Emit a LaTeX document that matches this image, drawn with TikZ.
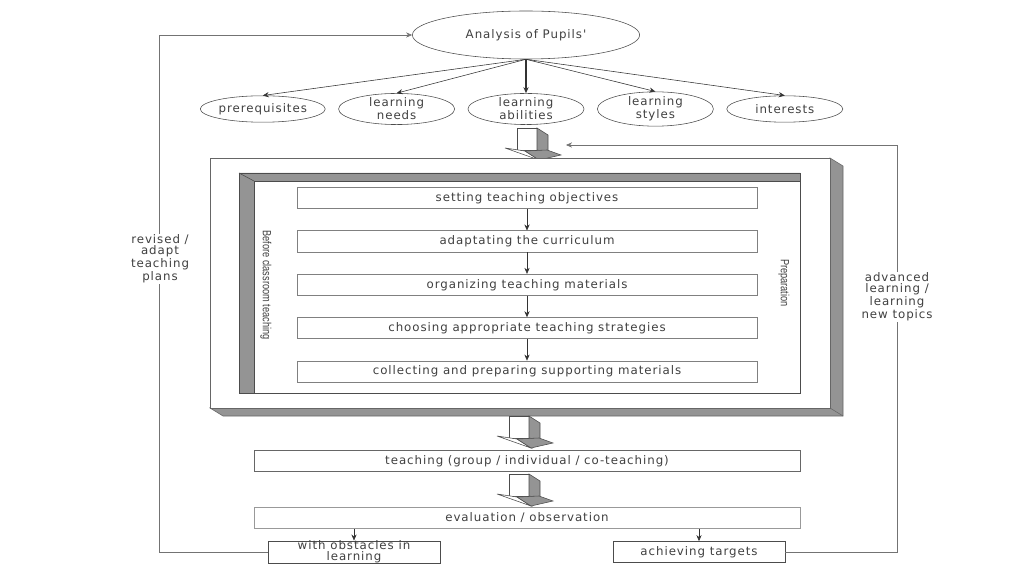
\documentclass[tikz,border=0pt]{standalone}
\usepackage{fontspec}
\newfontfamily\diagfont[LetterSpace=8]{DejaVu Sans}
\newfontfamily\narrowfont[FakeStretch=0.78]{Liberation Sans}
\usetikzlibrary{arrows.meta,positioning,shapes.geometric}
\colorlet{ink}{black!75}
\colorlet{side}{black!42}

\begin{document}
\begin{tikzpicture}[x=0.025cm,y=-0.025cm,node distance=5.4mm,
  txt/.style={font=\fontsize{8.4}{7.8}\diagfont,text=ink,align=center},
  bigell/.style={txt,draw=black!70,ellipse,minimum width=5.68cm,minimum height=1.2cm,inner sep=0pt},
  smallell/.style={txt,draw=black!70,ellipse,minimum width=2.9cm,minimum height=6.6mm,inner sep=0pt},
  stepbox/.style={txt,draw=black!50,minimum width=11.5cm,minimum height=5.3mm,inner sep=0pt},
  widebox/.style={txt,draw=black!60,minimum width=13.65cm,minimum height=5.3mm,inner sep=0pt},
  endbox/.style={txt,draw=black!70,minimum width=4.3cm,minimum height=5.3mm,inner sep=0pt},
  fblabel/.style={txt,fill=white,inner sep=1pt},
  sidelabel/.style={font=\fontsize{8.4}{8}\narrowfont,text=ink,rotate=-90},
  arr/.style={-{Stealth[length=1.5mm,width=1.3mm]},black!80},
  fb/.style={-{Stealth[length=1.5mm,width=1.3mm]},black!55},
  blockarrow/.pic={
    \draw[black!70,fill=white] (0,0) rectangle (20,22);
    \draw[black!70,fill=side] (20,0) -- (31,7) -- (31,24) -- (20,22) -- cycle;
    \draw[black!70,fill=white] (-12,20) -- (8,23) -- (22,32) -- cycle;
    \draw[black!70,fill=side] (8,23) -- (30,22) -- (44,27) -- (22,32) -- cycle;
  }]
  \useasboundingbox (0,0) rectangle (1024,576);

  % pupils analysis
  \node[bigell] (pupils) at (526,35) {Analysis of Pupils'};
  \node[smallell] (abil) at (526,109) {learning\\abilities};
  \node[smallell,left=3.2mm of abil] (needs) {learning\\needs};
  \node[smallell,left=3.2mm of needs] (prereq) {prerequisites};
  \node[smallell,right=3.2mm of abil] (styles) {learning\\styles};
  \node[smallell,right=3.2mm of styles] (inter) {interests};
  \foreach \n in {prereq,needs,styles,inter} \draw[arr] (pupils.south) -- (\n.north);
  \draw[arr,line width=0.8pt] (pupils.south) -- (abil.north);

  \pic at (517,128) {blockarrow};

  % outer frame
  \fill[side,draw=black!60] (830,158) -- (843,166) -- (843,416) -- (223,416) -- (210,408) -- (830,408) -- cycle;
  \draw[black!60,fill=white] (210,158) rectangle (830,408);
  \draw[black!60] (830,408) -- (843,416);
  % inner panel
  \draw[black!70,fill=white] (239,173) rectangle (800,393);
  \fill[side,draw=black!70] (239,173) -- (800,173) -- (800,181) -- (254,181) -- (254,393) -- (239,393) -- cycle;
  \draw[black!70] (239,173) -- (254,181);
  \node[sidelabel] (before) at (266,285) {Before classroom teaching};
  \node[sidelabel] (prep) at (784,283) {Preparation};

  % preparation steps
  \node[stepbox] (s1) at (527,198) {setting teaching objectives};
  \node[stepbox,below=of s1] (s2) {adaptating the curriculum};
  \node[stepbox,below=of s2] (s3) {organizing teaching materials};
  \node[stepbox,below=of s3] (s4) {choosing appropriate teaching strategies};
  \node[stepbox,below=of s4] (s5) {collecting and preparing supporting materials};
  \foreach \x/\y in {s1/s2,s2/s3,s3/s4,s4/s5} \draw[arr] (\x)--(\y);

  % teaching and evaluation
  \pic at (509,416) {blockarrow};
  \node[widebox] (teach) at (527,461) {teaching (group / individual / co-teaching)};
  \pic at (509,474) {blockarrow};
  \node[widebox,draw=black!40] (eval) at (527,518) {evaluation / observation};
  \node[endbox] (obst) at (354,552) {with obstacles in\\learning};
  \node[endbox] (achv) at (699,552) {achieving targets};
  \draw[arr] (obst.north |- eval.south) -- (obst.north);
  \draw[arr] (achv.north |- eval.south) -- (achv.north);

  % feedback loops
  \coordinate (loopin) at (566,145);
  \draw[fb] (obst.west) -- ++(-108,0) |- (pupils.west);
  \draw[fb] (achv.east) -- ++(112,0) |- (loopin);
  \node[fblabel] (revlab) at (160,259) {revised /\\adapt\\teaching\\plans};
  \node[fblabel] (advlab) at (897,297) {advanced\\learning /\\learning\\new topics};
\end{tikzpicture}
\end{document}
